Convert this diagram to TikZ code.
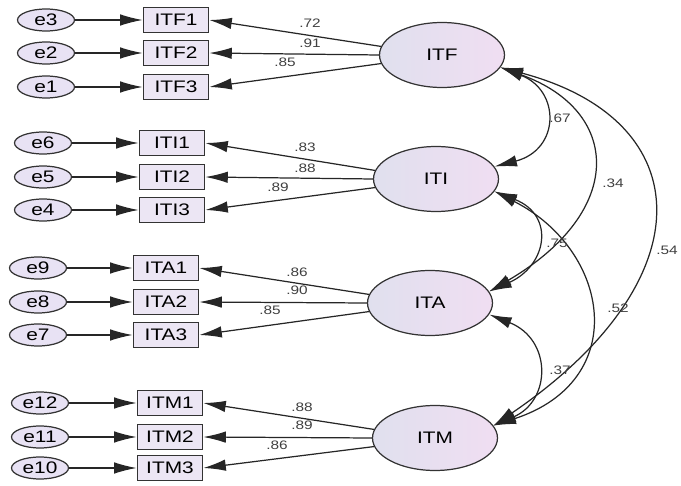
\documentclass[tikz,border=0pt]{standalone}
\usepackage{fontspec}
\setmainfont{Liberation Sans}[FakeStretch=1.25]
\usetikzlibrary{shapes.geometric}
\usetikzlibrary{arrows.meta}
\definecolor{latL}{RGB}{224,224,238}
\definecolor{latR}{RGB}{240,222,242}
\definecolor{boxfill}{RGB}{236,230,244}
\definecolor{errfill}{RGB}{232,226,244}
\tikzset{
	latent/.style={ellipse,draw=black!80,line width=0.7pt,left color=latL,right color=latR,
		minimum width=2.5cm,minimum height=1.3cm,inner sep=0pt,font=\fontsize{9.5}{11}\selectfont},
	indicator/.style={rectangle,draw=black!80,line width=0.9pt,fill=boxfill,
		minimum width=1.3cm,minimum height=0.5cm,inner sep=0pt,font=\fontsize{9.5}{11}\selectfont},
	errnode/.style={ellipse,draw=black!80,line width=0.7pt,fill=errfill,
		minimum width=1.14cm,minimum height=0.44cm,inner sep=0pt,font=\fontsize{9.5}{11}\selectfont},
	regpath/.style={draw=black!85,line width=0.7pt,-{Latex[length=4.5mm,width=2.3mm]}},
	cov/.style={draw=black!85,line width=0.7pt,{Latex[length=4.5mm,width=2.3mm]}-{Latex[length=4.5mm,width=2.3mm]}},
	coef/.style={inner sep=0pt,text=black!75,font=\fontsize{7}{8}\selectfont}
}
\begin{document}
\begin{tikzpicture}[x=0.02cm,y=-0.02cm]
	\useasboundingbox (0,0) rectangle (681,486);
	\node[latent] (ITF) at (442,55) {ITF};
	\node[latent] (ITI) at (436,179) {ITI};
	\node[latent] (ITA) at (430,303) {ITA};
	\node[latent] (ITM) at (435,438) {ITM};

	\node[indicator] (ITF1) at (176,20) {ITF1};
	\node[indicator] (ITF2) at (176,53) {ITF2};
	\node[indicator] (ITF3) at (176,87) {ITF3};
	\node[errnode] (e3) at (46,20) {e3};
	\node[errnode] (e2) at (46,53) {e2};
	\node[errnode] (e1) at (46,87) {e1};

	\node[indicator] (ITI1) at (172,143) {ITI1};
	\node[indicator] (ITI2) at (172,177) {ITI2};
	\node[indicator] (ITI3) at (172,210) {ITI3};
	\node[errnode] (e6) at (43,143) {e6};
	\node[errnode] (e5) at (43,177) {e5};
	\node[errnode] (e4) at (43,210) {e4};

	\node[indicator] (ITA1) at (166,268) {ITA1};
	\node[indicator] (ITA2) at (166,302) {ITA2};
	\node[indicator] (ITA3) at (166,335) {ITA3};
	\node[errnode] (e9) at (38,268) {e9};
	\node[errnode] (e8) at (38,302) {e8};
	\node[errnode] (e7) at (38,335) {e7};

	\node[indicator] (ITM1) at (170,403) {ITM1};
	\node[indicator] (ITM2) at (170,437) {ITM2};
	\node[indicator] (ITM3) at (170,468) {ITM3};
	\node[errnode] (e12) at (40,403) {e12};
	\node[errnode] (e11) at (40,437) {e11};
	\node[errnode] (e10) at (40,468) {e10};

	\draw[regpath] (e3) -- (ITF1);	\draw[regpath] (e2) -- (ITF2);	\draw[regpath] (e1) -- (ITF3);
	\draw[regpath] (e6) -- (ITI1);	\draw[regpath] (e5) -- (ITI2);	\draw[regpath] (e4) -- (ITI3);
	\draw[regpath] (e9) -- (ITA1);	\draw[regpath] (e8) -- (ITA2);	\draw[regpath] (e7) -- (ITA3);
	\draw[regpath] (e12) -- (ITM1);	\draw[regpath] (e11) -- (ITM2);	\draw[regpath] (e10) -- (ITM3);

	\draw[regpath] (ITF.172) -- (ITF1.east);	\draw[regpath] (ITF.west) -- (ITF2.east);	\draw[regpath] (ITF.188) -- (ITF3.east);
	\draw[regpath] (ITI.172) -- (ITI1.east);	\draw[regpath] (ITI.west) -- (ITI2.east);	\draw[regpath] (ITI.188) -- (ITI3.east);
	\draw[regpath] (ITA.172) -- (ITA1.east);	\draw[regpath] (ITA.west) -- (ITA2.east);	\draw[regpath] (ITA.188) -- (ITA3.east);
	\draw[regpath] (ITM.172) -- (ITM1.east);	\draw[regpath] (ITM.west) -- (ITM2.east);	\draw[regpath] (ITM.188) -- (ITM3.east);

	\node[coef] (lf1) at (310,23) {.72};	\node[coef] (lf2) at (310,43) {.91};	\node[coef] (lf3) at (285,62) {.85};
	\node[coef] (li1) at (305,147) {.83};	\node[coef] (li2) at (305,168) {.88};	\node[coef] (li3) at (278,187) {.89};
	\node[coef] (la1) at (297,272) {.86};	\node[coef] (la2) at (297,290) {.90};	\node[coef] (la3) at (270,310) {.85};
	\node[coef] (lm1) at (302,407) {.88};	\node[coef] (lm2) at (302,425) {.89};	\node[coef] (lm3) at (277,445) {.86};

	\draw[cov] (ITF.-12) .. controls +(60,23) and +(66,-17) .. (ITI.12);
	\draw[cov] (ITF.-12) .. controls +(120,43) and +(138,-81) .. (ITA.11);
	\draw[cov] (ITF.-12) .. controls +(200,53) and +(213,-145) .. (ITM.12);
	\draw[cov] (ITI.-12) .. controls +(61,24) and +(58,-26) .. (ITA.11);
	\draw[cov] (ITI.-12) .. controls +(116,59) and +(138,-45) .. (ITM.12);
	\draw[cov] (ITA.-11) .. controls +(63,25) and +(58,-25) .. (ITM.12);

	\node[coef] (c67) at (560,118) {.67};
	\node[coef] (c34) at (613,183) {.34};
	\node[coef] (c54) at (667,250) {.54};
	\node[coef] (c75) at (557,243) {.75};
	\node[coef] (c52) at (618,308) {.52};
	\node[coef] (c37) at (560,370) {.37};
\end{tikzpicture}
\end{document}
